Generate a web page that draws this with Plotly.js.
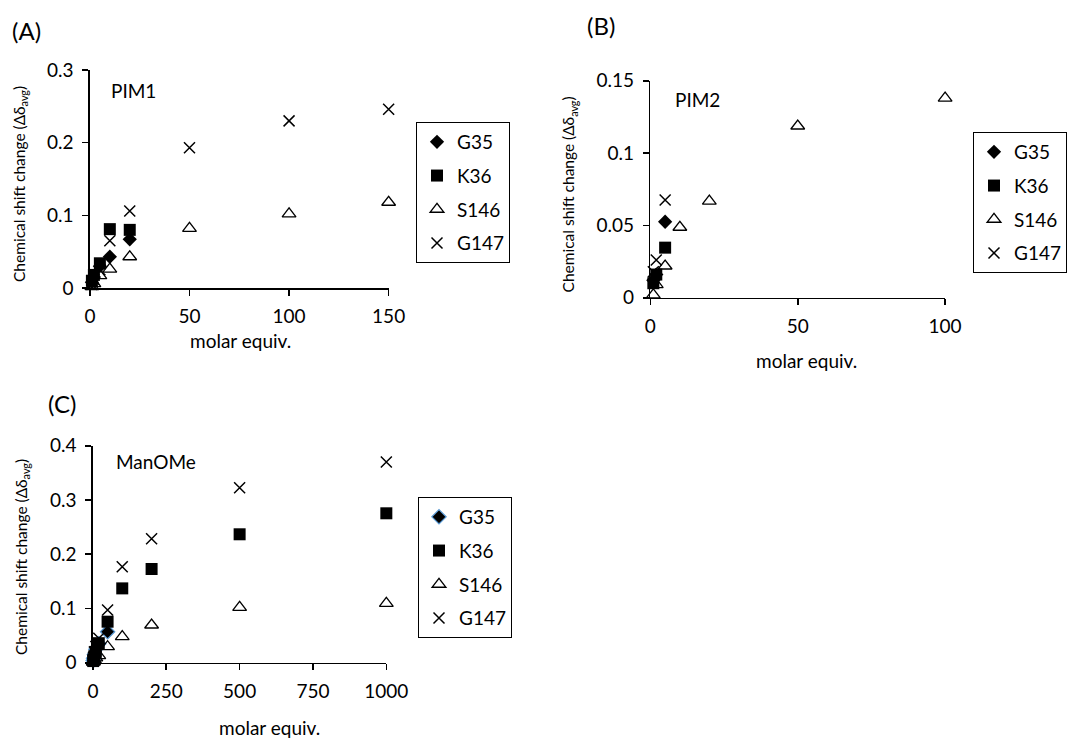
<!DOCTYPE html>
<html>
<head>
<meta charset="utf-8">
<script src="https://cdn.plot.ly/plotly-3.0.1.min.js"></script>
<style>html,body{margin:0;padding:0;background:#fff;}#chart{width:1067px;height:738px;}</style>
</head>
<body>
<div id="chart"></div>
<script>
// ---- Data ----
const seriesNames = ["G35", "K36", "S146", "G147"];

// Panel A: PIM1
const pim1_G35_x = [1, 2, 5, 10, 20];
const pim1_G35_y = [0.008, 0.015, 0.030, 0.043, 0.067];
const pim1_K36_x = [1, 2, 5, 10, 20];
const pim1_K36_y = [0.010, 0.018, 0.034, 0.081, 0.080];
const pim1_S146_x = [1, 2, 5, 10, 20, 50, 100, 150];
const pim1_S146_y = [0.002, 0.006, 0.017, 0.026, 0.043, 0.082, 0.102, 0.118];
const pim1_G147_x = [1, 2, 5, 10, 20, 50, 100, 150];
const pim1_G147_y = [0.005, 0.012, 0.025, 0.065, 0.106, 0.193, 0.230, 0.246];

// Panel B: PIM2
const pim2_G35_x = [1, 2, 5];
const pim2_G35_y = [0.012, 0.016, 0.0525];
const pim2_K36_x = [1, 2, 5];
const pim2_K36_y = [0.010, 0.016, 0.0346];
const pim2_S146_x = [1, 2, 5, 10, 20, 50, 100];
const pim2_S146_y = [0.002, 0.009, 0.0219, 0.0487, 0.0668, 0.1187, 0.138];
const pim2_G147_x = [1, 2, 5];
const pim2_G147_y = [0.018, 0.026, 0.0675];

// Panel C: ManOMe
const man_G35_x = [1, 2, 5, 10, 20, 50];
const man_G35_y = [0.004, 0.008, 0.015, 0.025, 0.035, 0.057];
const man_x = [1, 2, 5, 10, 20, 50, 100, 200, 500, 1000];
const man_K36_y = [0.003, 0.006, 0.012, 0.020, 0.036, 0.0756, 0.137, 0.1727, 0.2367, 0.2754];
const man_S146_y = [0.001, 0.002, 0.005, 0.009, 0.013, 0.0295, 0.048, 0.0695, 0.102, 0.1094];
const man_G147_y = [0.005, 0.010, 0.020, 0.030, 0.045, 0.097, 0.177, 0.2286, 0.3226, 0.370];

// Axis ticks
const xTicksA = [0, 50, 100, 150];
const yTicksA = [0, 0.1, 0.2, 0.3];
const yTextA = ["0", "0.1", "0.2", "0.3"];
const xTicksB = [0, 50, 100];
const yTicksB = [0, 0.05, 0.1, 0.15];
const yTextB = ["0", "0.05", "0.1", "0.15"];
const xTicksC = [0, 250, 500, 750, 1000];
const yTicksC = [0, 0.1, 0.2, 0.3, 0.4];
const yTextC = ["0", "0.1", "0.2", "0.3", "0.4"];

// ---- Styles ----
const FONT = "Lato, 'Open Sans', sans-serif";
const styles = {
  G35: {symbol: "diamond", size: 11, color: "black", line: {width: 0, color: "black"}},
  K36: {symbol: "square", size: 12, color: "black", line: {width: 0, color: "black"}},
  S146: {symbol: "triangle-up-open", size: 12, color: "black", line: {width: 1.3, color: "black"}},
  G147: {symbol: "x-thin-open", size: 11, color: "black", line: {width: 1.5, color: "black"}}
};

function tr(name, x, y, xa, ya, leg, markerOverride) {
  const m = Object.assign({}, styles[name], markerOverride || {});
  return {
    type: "scatter", mode: "markers", name: name, x: x, y: y,
    xaxis: xa, yaxis: ya, legend: leg, legendgroup: leg + name,
    cliponaxis: false, marker: m, hoverinfo: "x+y+name"
  };
}

const traces = [
  tr("G35", pim1_G35_x, pim1_G35_y, "x", "y", "legend"),
  tr("K36", pim1_K36_x, pim1_K36_y, "x", "y", "legend"),
  tr("S146", pim1_S146_x, pim1_S146_y, "x", "y", "legend"),
  tr("G147", pim1_G147_x, pim1_G147_y, "x", "y", "legend"),
  tr("G35", pim2_G35_x, pim2_G35_y, "x2", "y2", "legend2"),
  tr("K36", pim2_K36_x, pim2_K36_y, "x2", "y2", "legend2"),
  tr("S146", pim2_S146_x, pim2_S146_y, "x2", "y2", "legend2"),
  tr("G147", pim2_G147_x, pim2_G147_y, "x2", "y2", "legend2"),
  tr("G35", man_G35_x, man_G35_y, "x3", "y3", "legend3", {line: {width: 1.2, color: "#5b9bd5"}}),
  tr("K36", man_x, man_K36_y, "x3", "y3", "legend3"),
  tr("S146", man_x, man_S146_y, "x3", "y3", "legend3"),
  tr("G147", man_x, man_G147_y, "x3", "y3", "legend3")
];

function axis(extra) {
  return Object.assign({
    showline: true, linecolor: "black", linewidth: 1.6,
    ticks: "outside", ticklen: 6, tickwidth: 1.6, tickcolor: "black",
    showgrid: false, zeroline: false, ticklabelstandoff: 5,
    tickfont: {family: FONT, size: 19, color: "black"},
    fixedrange: true
  }, extra);
}

const W = 1067, H = 738;
const px = v => v / W;
const py = v => 1 - v / H;

function legendBox(x, y) {
  return {
    x: px(x), y: py(y), xanchor: "left", yanchor: "top",
    bordercolor: "black", borderwidth: 1, bgcolor: "white",
    font: {family: FONT, size: 19, color: "black"},
    tracegroupgap: 6, traceorder: "grouped", itemwidth: 30
  };
}

function ann(text, x, y, size, xanchor, extra) {
  return Object.assign({
    text: text, xref: "paper", yref: "paper", x: px(x), y: py(y),
    xanchor: xanchor || "left", yanchor: "middle", showarrow: false,
    font: {family: FONT, size: size, color: "black"}
  }, extra || {});
}

const ytitle = "Chemical shift change (Δδ<sub>avg</sub>)";

const layout = {
  width: W, height: H,
  margin: {l: 0, r: 0, t: 0, b: 0},
  paper_bgcolor: "white", plot_bgcolor: "white",
  showlegend: true,
  xaxis: axis({domain: [px(90), px(389)], range: [0, 150], tickvals: xTicksA, anchor: "y"}),
  yaxis: axis({domain: [py(288), py(70)], range: [0, 0.3], tickvals: yTicksA, ticktext: yTextA, anchor: "x"}),
  xaxis2: axis({domain: [px(651), px(946)], range: [0, 100], tickvals: xTicksB, anchor: "y2"}),
  yaxis2: axis({domain: [py(297.7), py(80.7)], range: [0, 0.15], tickvals: yTicksB, ticktext: yTextB, anchor: "x2"}),
  xaxis3: axis({domain: [px(93), px(386.7)], range: [0, 1000], tickvals: xTicksC, anchor: "y3"}),
  yaxis3: axis({domain: [py(662.7), py(445.7)], range: [0, 0.4], tickvals: yTicksC, ticktext: yTextC, anchor: "x3"}),
  legend: legendBox(416, 122),
  legend2: legendBox(974, 132),
  legend3: legendBox(418, 497),
  annotations: [
    ann("(A)", 10, 30, 24),
    ann("(B)", 586, 25, 24),
    ann("(C)", 46, 403, 24),
    ann("PIM1", 109, 90, 19),
    ann("PIM2", 674, 100, 19),
    ann("ManOMe", 114, 461, 19),
    ann(ytitle, 20, 184, 15.5, "center", {textangle: -90}),
    ann(ytitle, 570, 194, 15.5, "center", {textangle: -90}),
    ann(ytitle, 22, 557, 15.5, "center", {textangle: -90}),
    ann("molar equiv.", 241, 340, 19, "center"),
    ann("molar equiv.", 807, 360, 19, "center"),
    ann("molar equiv.", 270, 727, 19, "center")
  ]
};

Plotly.newPlot("chart", traces, layout, {displayModeBar: false, staticPlot: true});
</script>
</body>
</html>
